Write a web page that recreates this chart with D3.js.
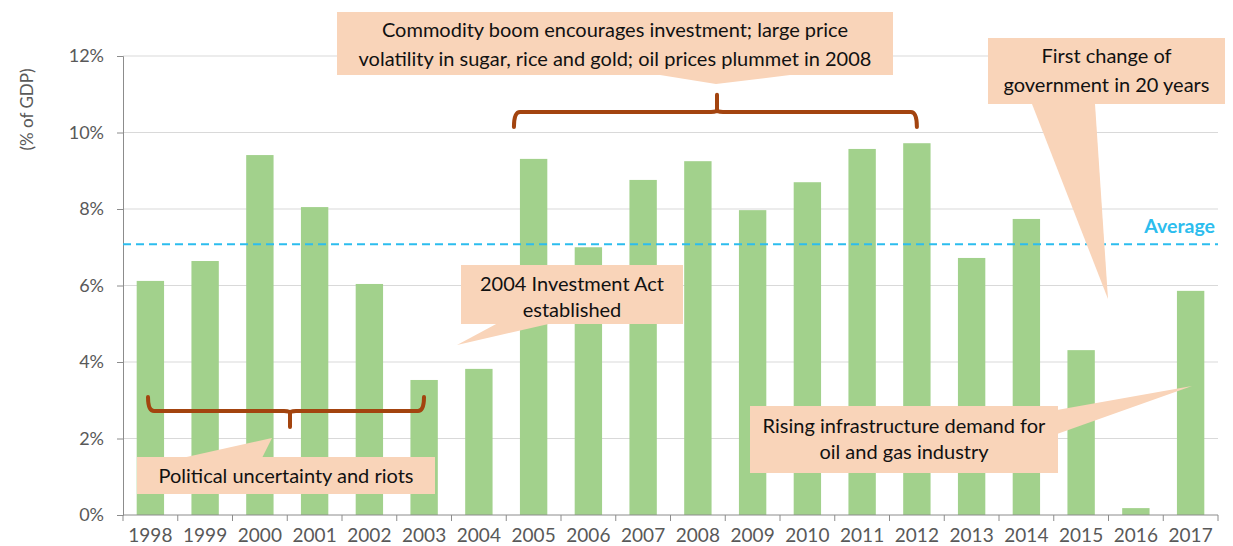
<!DOCTYPE html>
<html>
<head>
<meta charset="utf-8">
<script src="https://cdn.jsdelivr.net/npm/d3@7"></script>
<style>
  body { margin: 0; background: #fff; }
  text { font-family: Lato, "Open Sans", sans-serif; }
</style>
</head>
<body>
<div id="chart"></div>
<script>
(function(){

// data
var years = ["1998","1999","2000","2001","2002","2003","2004","2005","2006","2007",
             "2008","2009","2010","2011","2012","2013","2014","2015","2016","2017"];
var fdiShare = [6.12, 6.64, 9.41, 8.05, 6.04, 3.53, 3.82, 9.31, 7.00, 8.76,
                9.25, 7.97, 8.70, 9.57, 9.72, 6.72, 7.74, 4.31, 0.18, 5.86];
var averageShare = 7.08;
var yTicks = [0, 2, 4, 6, 8, 10, 12];

var W = 1233, H = 546;
var margin = {top: 56, right: 15, bottom: 31, left: 123},
    width = W - margin.left - margin.right,
    height = H - margin.top - margin.bottom;

var green = "#a2d18c", peach = "#f9d4b9", brown = "#a3440f",
    sky = "#2cbdee", grey = "#595959", gridC = "#d9d9d9";

var svg = d3.select("#chart")
  .append("svg")
    .attr("width", W)
    .attr("height", H);

var g = svg.append("g")
    .attr("transform", "translate(" + margin.left + "," + margin.top + ")");

var x = d3.scaleBand()
          .domain(years)
          .range([0, width])
          .paddingInner(0.5)
          .paddingOuter(0.25);

var y = d3.scaleLinear()
          .domain([0, 12])
          .range([height, 0]);

// gridlines
g.selectAll(".grid")
  .data(yTicks.slice(1)).enter()
  .append("line")
    .attr("x1", 0).attr("x2", width)
    .attr("y1", function(d) { return y(d); })
    .attr("y2", function(d) { return y(d); })
    .attr("stroke", gridC).attr("stroke-width", 1);

// y axis
var yAxis = g.append("g")
  .call(d3.axisLeft(y).tickValues(yTicks).tickSize(6).tickPadding(13)
          .tickFormat(function(d) { return d + "%"; }));
yAxis.select(".domain").attr("stroke", "#8c8c8c");
yAxis.selectAll(".tick line").attr("stroke", "#8c8c8c");
yAxis.selectAll("text")
  .attr("font-size", "18px").attr("fill", grey)
  .style("font-family", "Lato, sans-serif");

g.append("text")
  .attr("transform", "translate(-90," + (y(10.6)) + ") rotate(-90)")
  .attr("text-anchor", "middle")
  .attr("font-size", "17px")
  .attr("fill", grey)
  .text("(% of GDP)");

// bars
g.selectAll(".bar")
  .data(fdiShare).enter()
  .append("rect")
    .attr("x", function(d, i) { return x(years[i]); })
    .attr("y", function(d) { return y(d); })
    .attr("width", x.bandwidth())
    .attr("height", function(d) { return height - y(d); })
    .attr("fill", green);

// x axis, ticks between categories
g.append("line")
  .attr("x1", 0).attr("x2", width)
  .attr("y1", height).attr("y2", height)
  .attr("stroke", "#8c8c8c");
var step = x.step();
g.selectAll(".xtick")
  .data(d3.range(years.length + 1)).enter()
  .append("line")
    .attr("x1", function(i) { return i * step; })
    .attr("x2", function(i) { return i * step; })
    .attr("y1", height).attr("y2", height + 6)
    .attr("stroke", "#8c8c8c");
g.selectAll(".xlab")
  .data(years).enter()
  .append("text")
    .attr("x", function(d) { return x(d) + x.bandwidth() / 2; })
    .attr("y", height + 27)
    .attr("text-anchor", "middle")
    .attr("font-size", "19px")
    .attr("fill", grey)
    .text(function(d) { return d; });

// average line
g.append("line")
  .attr("x1", 0).attr("x2", width)
  .attr("y1", y(averageShare)).attr("y2", y(averageShare))
  .attr("stroke", sky).attr("stroke-width", 2)
  .attr("stroke-dasharray", "8,5");
g.append("text")
  .attr("x", width - 3)
  .attr("y", y(averageShare) - 11)
  .attr("text-anchor", "end")
  .attr("font-size", "19.5px")
  .attr("font-weight", "bold")
  .attr("fill", sky)
  .text("Average");

// braces
function bx(d) { return margin.left + x(d); }
function brace(x1, x2, yh, dy, xm) {
  var r = 6, ye = yh + dy, yn = yh - dy * 1.15;
  var s = dy > 0 ? 1 : -1;
  return "M" + x1 + "," + ye +
    "Q" + x1 + "," + yh + " " + (x1 + r) + "," + yh +
    "L" + (xm - r) + "," + yh +
    "Q" + xm + "," + yh + " " + xm + "," + (yh - s * 2) +
    "L" + xm + "," + yn +
    "M" + xm + "," + (yh - s * 2) +
    "Q" + xm + "," + yh + " " + (xm + r) + "," + yh +
    "L" + (x2 - r) + "," + yh +
    "Q" + x2 + "," + yh + " " + x2 + "," + ye;
}
var ov = svg.append("g");
ov.append("path")
  .attr("d", brace(bx("2005") - 6, bx("2012") + x.bandwidth() / 2, 112, 15, 717))
  .attr("fill", "none").attr("stroke", brown).attr("stroke-width", 4)
  .attr("stroke-linecap", "round");
ov.append("path")
  .attr("d", brace(148, 424, 411, -14, 290))
  .attr("fill", "none").attr("stroke", brown).attr("stroke-width", 4)
  .attr("stroke-linecap", "round");

// callouts: box, pointer, lines of text
var callouts = [
  {box: [337, 12, 556, 63], tip: [[660, 75], [716, 84], [790, 75]],
   lines: ["Commodity boom encourages investment; large price",
           "volatility in sugar, rice and gold; oil prices plummet in 2008"], ty: [37, 66]},
  {box: [988, 38, 237, 66], tip: [[1032, 104], [1108, 299], [1095, 104]],
   lines: ["First change of", "government in 20 years"], ty: [63, 92]},
  {box: [461, 265, 222, 59], tip: [[498, 323], [457, 345], [553, 323]],
   lines: ["2004 Investment Act", "established"], ty: [291, 317]},
  {box: [137, 457, 298, 37], tip: [[182, 458], [272, 438], [262, 458]],
   lines: ["Political uncertainty and riots"], ty: [483]},
  {box: [750, 406, 308, 67], tip: [[1057, 410], [1192, 386], [1057, 434]],
   lines: ["Rising infrastructure demand for", "oil and gas industry"], ty: [433, 459]}
];

callouts.forEach(function(c) {
  var b = c.box;
  ov.append("rect")
    .attr("x", b[0]).attr("y", b[1])
    .attr("width", b[2]).attr("height", b[3])
    .attr("fill", peach);
  ov.append("polygon")
    .attr("points", c.tip.map(function(p) { return p.join(","); }).join(" "))
    .attr("fill", peach);
  c.lines.forEach(function(t, i) {
    ov.append("text")
      .attr("x", b[0] + b[2] / 2)
      .attr("y", c.ty[i])
      .attr("text-anchor", "middle")
      .attr("font-size", "20px")
      .attr("fill", "#111")
      .text(t);
  });
});

})()
</script>
</body>
</html>
